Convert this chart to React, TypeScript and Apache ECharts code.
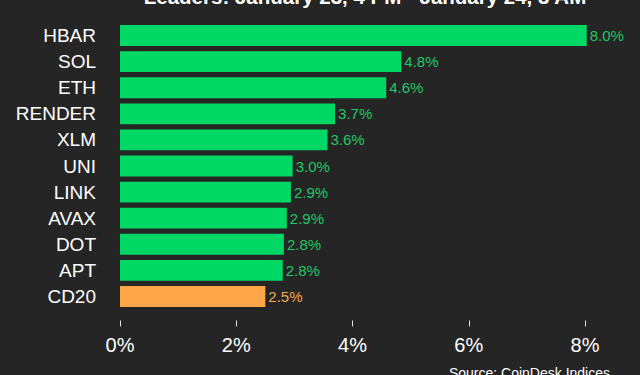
import React, { useEffect, useRef } from "react";
import * as echarts from "echarts";

const categories = ["HBAR", "SOL", "ETH", "RENDER", "XLM", "UNI", "LINK", "AVAX", "DOT", "APT", "CD20"];
const values = [8.03, 4.84, 4.58, 3.7, 3.57, 2.97, 2.94, 2.87, 2.82, 2.8, 2.5];
const highlight = ["CD20"];
const xTicks = [0, 2, 4, 6, 8];
const titleText = "Leaders: January 23, 4 PM - January 24, 3 AM";
const sourceText = "Source: CoinDesk Indices";

const GREEN = "#00d866";
const GREEN_LABEL = "#22c766";
const ORANGE = "#ffa748";
const ORANGE_LABEL = "#f5a84a";
const BG = "#252525";
const FONT = "'Liberation Sans', Arial, Helvetica, sans-serif";

export default function App() {
  const ref = useRef<HTMLDivElement>(null);
  useEffect(() => {
    document.body.style.margin = "0";
    document.body.style.background = BG;
    const chart = echarts.init(ref.current!, null, { renderer: "svg" });
    chart.setOption({
      animation: false,
      backgroundColor: BG,
      textStyle: { fontFamily: FONT },
      grid: { left: 120, right: 55, top: 22.5, height: 287, containLabel: false },
      xAxis: {
        type: "value",
        min: xTicks[0],
        max: xTicks[xTicks.length - 1],
        interval: 2,
        offset: 11,
        axisLine: { show: false },
        axisTick: { show: true, length: 6, lineStyle: { color: "#e0e0e0", width: 1 } },
        splitLine: { show: false },
        axisLabel: {
          color: "#ffffff",
          fontSize: 20,
          fontFamily: FONT,
          margin: 14,
          formatter: (v: number) => `${v}%`,
        },
      },
      yAxis: {
        type: "category",
        data: categories,
        inverse: true,
        axisLine: { show: false },
        axisTick: { show: false },
        axisLabel: { color: "#ffffff", fontSize: 19, fontFamily: FONT, margin: 24 },
      },
      series: [
        {
          type: "bar",
          clip: false,
          barCategoryGap: "20%",
          data: categories.map((c, i) => {
            const hi = highlight.includes(c);
            return {
              value: values[i],
              itemStyle: { color: hi ? ORANGE : GREEN },
              label: { color: hi ? ORANGE_LABEL : GREEN_LABEL },
            };
          }),
          label: {
            show: true,
            position: "right",
            distance: 3,
            fontSize: 15,
            fontFamily: FONT,
            formatter: (p: any) => `${p.value.toFixed(1)}%`,
          },
        },
      ],
      graphic: [
        {
          type: "text",
          x: 365,
          y: 7,
          style: {
            text: titleText,
            fill: "#ffffff",
            font: `bold 20.5px ${FONT}`,
            textAlign: "center",
            textVerticalAlign: "bottom",
          },
        },
        {
          type: "text",
          x: 610,
          y: 366,
          style: {
            text: sourceText,
            fill: "#ffffff",
            font: `14px ${FONT}`,
            textAlign: "right",
            textVerticalAlign: "top",
          },
        },
      ],
    });
    return () => chart.dispose();
  }, []);
  return <div ref={ref} style={{ position: "fixed", left: 0, top: 0, width: 640, height: 375 }} />;
}
